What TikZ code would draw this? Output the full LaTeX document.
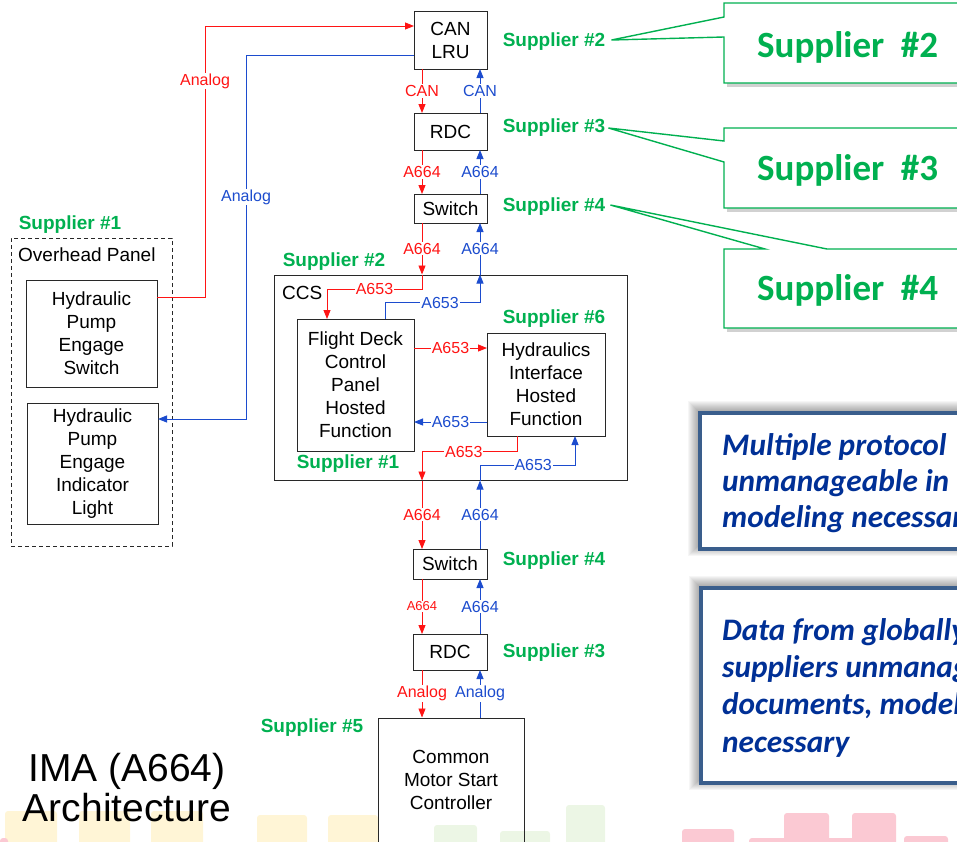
\documentclass[tikz,border=0pt]{standalone}
\usepackage{fontspec}
\setmainfont{Liberation Sans}
\newfontfamily\calibri{Carlito}
\usetikzlibrary{arrows.meta,calc}
\definecolor{sigred}{RGB}{255,20,20}
\definecolor{sigblue}{RGB}{28,76,206}
\definecolor{supgreen}{RGB}{0,176,80}
\definecolor{notefg}{RGB}{0,48,150}
\definecolor{noteedge}{RGB}{58,94,140}
\definecolor{boxedge}{RGB}{40,40,40}
\definecolor{yellowblk}{RGB}{255,245,214}
\definecolor{greenblk}{RGB}{236,246,229}
\definecolor{pinkblk}{RGB}{251,201,211}
\begin{document}
\begin{tikzpicture}[x=1pt,y=-1pt,
  unit/.style={draw=boxedge,line width=1pt,inner sep=0pt,outer sep=0pt,align=center,font=\fontsize{19}{23}\selectfont},
  wire/.style={line width=0.9pt},
  redwire/.style={wire,draw=sigred},
  bluewire/.style={wire,draw=sigblue},
  arrowed/.style={-{Triangle[length=9pt,width=7pt]}},
  lbl/.style={fill=white,inner sep=1pt,font=\fontsize{16}{16}\selectfont},
  redlbl/.style={lbl,text=sigred},
  bluelbl/.style={lbl,text=sigblue},
  supplier/.style={text=supgreen,inner sep=0pt,font=\bfseries\fontsize{19}{19}\selectfont},
  callout/.style={draw=supgreen,line width=1.4pt,fill=white},
  calloutshade/.style={fill=black,opacity=0.18},
  callouttext/.style={text=supgreen,anchor=west,inner sep=0pt,font=\calibri\bfseries\fontsize{37}{37}\selectfont},
  note/.style={draw=noteedge,line width=4pt,fill=white},
  notetext/.style={text=notefg,anchor=base west,inner sep=0pt,font=\calibri\bfseries\itshape\fontsize{31.3}{36}\selectfont},
  block/.style={rounded corners=3pt}
]
\useasboundingbox (0,0) rectangle (957,841);
\clip (0,0) rectangle (957,841);

% decorative blocks along the bottom edge
\fill[yellowblk,block] (5,811) rectangle (57,850);
\fill[yellowblk,block] (79,811) rectangle (130,850);
\fill[yellowblk,block] (151,811) rectangle (203,850);
\fill[yellowblk,block] (257,815) rectangle (307,850);
\fill[yellowblk,block] (328,815) rectangle (378,850);
\fill[greenblk,block] (434,825) rectangle (477,850);
\fill[greenblk,block] (500,831) rectangle (550,850);
\fill[greenblk,block] (566,805) rectangle (605,850);
\fill[pinkblk,block] (0,838) rectangle (8,850);
\fill[pinkblk,block] (682,829) rectangle (734,850);
\fill[pinkblk,block] (749,838) rectangle (799,850);
\fill[pinkblk,block] (784,813) rectangle (829,850);
\fill[pinkblk,block] (810,838) rectangle (859,850);
\fill[pinkblk,block] (852,813) rectangle (896,850);
\fill[pinkblk,block] (904,836) rectangle (948,850);

% title
\node[align=center,font=\fontsize{39}{40}\selectfont] (title) at (127,788) {IMA (A664)\\Architecture};

% overhead panel
\node[draw=boxedge,line width=0.9pt,dash pattern=on 4pt off 3pt,minimum width=161pt,minimum height=308pt,inner sep=0pt] (ovp) at (91.5,392) {};
\node[anchor=west,inner sep=0pt,font=\fontsize{19}{23}\selectfont] (ovplabel) at (18,255) {Overhead Panel};
\node[unit,minimum width=131pt,minimum height=107pt] (hpes) at (91.5,333.5) {Hydraulic\\Pump\\Engage\\Switch};
\node[unit,minimum width=131pt,minimum height=121pt] (hpeil) at (92.5,463.5) {Hydraulic\\Pump\\Engage\\Indicator\\Light};
\node[supplier] (supOvp) at (70,225) {Supplier \#1};

% main chain of units
\node[unit,minimum width=73pt,minimum height=58pt] (canlru) at (450.5,40) {CAN\\LRU};
\node[unit,minimum width=73pt,minimum height=37pt] (rdcA) at (450.5,131.5) {RDC};
\node[unit,minimum width=73pt,minimum height=29pt] (swA) at (450.5,208.5) {Switch};
\node[draw=boxedge,line width=1pt,minimum width=353pt,minimum height=205pt,inner sep=0pt] (ccs) at (450.5,377.5) {};
\node[anchor=west,inner sep=0pt,font=\fontsize{19}{23}\selectfont] (ccslabel) at (282,293) {CCS};
\node[unit,minimum width=117pt,minimum height=132pt] (fdcp) at (355.5,385) {Flight Deck\\Control\\Panel\\Hosted\\Function};
\node[unit,minimum width=118pt,minimum height=103pt] (hif) at (546,384.5) {Hydraulics\\Interface\\Hosted\\Function};
\node[unit,minimum width=74pt,minimum height=30pt] (swB) at (450,564) {Switch};
\node[unit,minimum width=74pt,minimum height=36pt] (rdcB) at (450,652) {RDC};
\node[draw=boxedge,line width=1pt,minimum width=146pt,minimum height=142pt,inner sep=0pt] (cmsc) at (451,789) {};
\node[align=center,font=\fontsize{19}{23}\selectfont] (cmsctext) at (451,780) {Common\\Motor Start\\Controller};

% supplier tags
\node[supplier] (supA) at (554,42) {Supplier \#2};
\node[supplier] (supB) at (554,128) {Supplier \#3};
\node[supplier] (supC) at (554,207) {Supplier \#4};
\node[supplier] (supCcs) at (334,262) {Supplier \#2};
\node[supplier] (supHif) at (554,319) {Supplier \#6};
\node[supplier] (supFd) at (348,464) {Supplier \#1};
\node[supplier] (supSw) at (554,561) {Supplier \#4};
\node[supplier] (supRdc) at (554,653) {Supplier \#3};
\node[supplier] (supCm) at (312,728) {Supplier \#5};

% lanes of the two signal directions
\coordinate (xr) at (422,0);
\coordinate (xb) at (480,0);

% analog links to the overhead panel
\coordinate (rA) at (205,26);
\draw[redwire,arrowed] ($(hpes.north east)+(0,17)$) -| (rA) -- (canlru.west |- rA);
\node[redlbl] at (205,81) {Analog};
\coordinate (bA) at (246,55);
\draw[bluewire,arrowed] (canlru.west |- bA) -- (bA) |- ($(hpeil.north east)+(0,16)$);
\node[bluelbl] at (246,197) {Analog};

% downstream (red) and upstream (blue) links
\draw[redwire,arrowed] (canlru.south -| xr) -- node[redlbl]{CAN} (rdcA.north -| xr);
\draw[bluewire,arrowed] (rdcA.north -| xb) -- node[bluelbl]{CAN} (canlru.south -| xb);
\draw[redwire,arrowed] (rdcA.south -| xr) -- node[redlbl]{A664} (swA.north -| xr);
\draw[bluewire,arrowed] (swA.north -| xb) -- node[bluelbl]{A664} (rdcA.south -| xb);
\draw[redwire,arrowed] (swA.south -| xr) -- node[redlbl]{A664} (ccs.north -| xr);
\draw[bluewire,arrowed] (ccs.north -| xb) -- node[bluelbl]{A664} (swA.south -| xb);

% links inside the CCS
\draw[redwire,arrowed] (ccs.north -| xr) |- ($(fdcp.north west)+(30,-30)$) node[redlbl,pos=0.75]{A653} -- ($(fdcp.north west)+(30,0)$);
\draw[bluewire,arrowed] ($(fdcp.north west)+(88,0)$) |- ($(ccs.north -| xb)+(0,28)$) node[bluelbl,pos=0.79]{A653} -- (ccs.north -| xb);
\coordinate (fdR) at ($(fdcp.north east)+(0,29)$);
\draw[redwire,arrowed] (fdR) -- node[redlbl]{A653} (hif.west |- fdR);
\coordinate (hfB) at ($(hif.north west)+(0,89)$);
\draw[bluewire,arrowed] (hfB) -- node[bluelbl]{A653} (fdcp.east |- hfB);
\draw[redwire,arrowed] ($(hif.south west)+(30,0)$) |- ($(ccs.south -| xr)+(0,-29)$) node[redlbl,pos=0.78]{A653} -- (ccs.south -| xr);
\draw[bluewire,arrowed] (ccs.south -| xb) |- ($(hif.south west)+(88,29)$) node[bluelbl,pos=0.78]{A653} -- ($(hif.south west)+(88,0)$);

% lower chain
\draw[redwire,arrowed] (ccs.south -| xr) -- node[redlbl]{A664} (swB.north -| xr);
\draw[bluewire,arrowed] (swB.north -| xb) -- node[bluelbl]{A664} (ccs.south -| xb);
\draw[redwire,arrowed] (swB.south -| xr) -- node[redlbl,font=\fontsize{13}{13}\selectfont]{A664} (rdcB.north -| xr);
\draw[bluewire,arrowed] (rdcB.north -| xb) -- node[bluelbl]{A664} (swB.south -| xb);
\draw[redwire,arrowed] (rdcB.south -| xr) -- node[redlbl]{Analog} (cmsc.north -| xr);
\draw[bluewire,arrowed] (cmsc.north -| xb) -- node[bluelbl]{Analog} (rdcB.south -| xb);

% supplier call-outs
\coordinate (tipA) at ($(supA.east)+(6,-2)$);
\coordinate (tipB) at ($(supB.east)+(3,0)$);
\coordinate (tipC) at ($(supC.east)+(5,-2)$);
\fill[calloutshade] (727,7) -- (980,7) -- (980,87) -- (727,87) -- cycle;
\draw[callout] (724,3) -- (980,3) -- (980,83) -- (724,83) -- (724,37) -- (tipA) -- (724,17) -- cycle;
\node[callouttext] (calA) at (757,47) {Supplier~~\#2};
\fill[calloutshade] (727,132) -- (980,132) -- (980,212) -- (727,212) -- cycle;
\draw[callout] (724,128) -- (980,128) -- (980,208) -- (724,208) -- (724,162) -- (tipB) -- (724,141) -- cycle;
\node[callouttext] (calB) at (757,170) {Supplier~~\#3};
\fill[calloutshade] (727,253) -- (980,253) -- (980,332) -- (727,332) -- cycle;
\draw[callout] (724,249) -- (765,249) -- (tipC) -- (827,249) -- (980,249) -- (980,328) -- (724,328) -- cycle;
\node[callouttext] (calC) at (757,290) {Supplier~~\#4};

% note boxes with a soft halo
\foreach \g in {1,...,10} {
  \fill[black,opacity=0.035] ({700-\g-2},{413-\g-2}) rectangle (980,{549+\g-3});
  \fill[black,opacity=0.035] ({701-\g-2},{588-\g-2}) rectangle (980,{783+\g-3});
}
\draw[note] (700,413) rectangle (985,549);
\node[notetext] (nA1) at (722,455) {Multiple protocol};
\node[notetext] (nA2) at (722,491) {unmanageable in};
\node[notetext] (nA3) at (722,527) {modeling necessary};
\draw[note] (701,588) rectangle (985,783);
\node[notetext] (nB1) at (722,640) {Data from globally};
\node[notetext] (nB2) at (722,677) {suppliers unmanageable};
\node[notetext] (nB3) at (722,714) {documents, modeling};
\node[notetext] (nB4) at (722,752) {necessary};
\end{tikzpicture}
\end{document}
